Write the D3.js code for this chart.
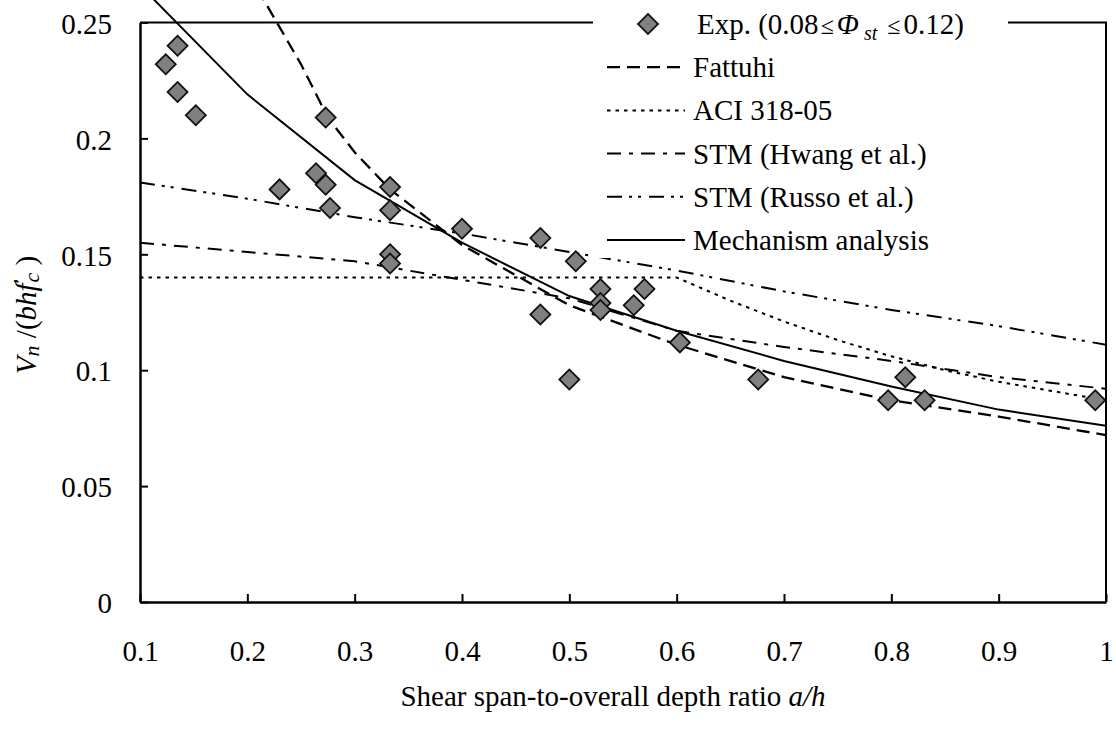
<!DOCTYPE html>
<html>
<head>
<meta charset="utf-8">
<script src="https://cdn.jsdelivr.net/npm/d3@7"></script>
<style>
  body { margin: 0; background: #fff; }
  svg { display: block; font-family: "Liberation Serif", "Times New Roman", serif; }
</style>
</head>
<body>
<div id="chart"></div>
<script>
// experimental points (a/h, Vn/(bhf'c))
const expX = [0.124, 0.135, 0.135, 0.152, 0.230, 0.264, 0.273, 0.273, 0.277, 0.333, 0.333, 0.333, 0.333,
              0.400, 0.473, 0.473, 0.500, 0.506, 0.529, 0.529, 0.529, 0.560, 0.570, 0.603, 0.676,
              0.797, 0.813, 0.831, 0.990];
const expY = [0.232, 0.240, 0.220, 0.210, 0.178, 0.185, 0.209, 0.180, 0.170, 0.179, 0.169, 0.150, 0.146,
              0.161, 0.157, 0.124, 0.096, 0.147, 0.135, 0.129, 0.126, 0.128, 0.135, 0.112, 0.096,
              0.087, 0.097, 0.087, 0.087];

// prediction curves
const fattuhiX = [0.2, 0.25, 0.275, 0.3, 0.333, 0.4, 0.5, 0.6, 0.7, 0.8, 0.9, 1.0];
const fattuhiY = [0.272, 0.232, 0.209, 0.194, 0.178, 0.154, 0.128, 0.111, 0.097, 0.087, 0.080, 0.072];

const aciX = [0.1, 0.6, 0.65, 0.7, 0.75, 0.8, 0.85, 0.9, 0.95, 1.0];
const aciY = [0.140, 0.140, 0.130, 0.121, 0.113, 0.106, 0.100, 0.095, 0.091, 0.087];

const hwangX = [0.1, 0.2, 0.3, 0.4, 0.5, 0.6, 0.7, 0.8, 0.9, 1.0];
const hwangY = [0.155, 0.151, 0.147, 0.139, 0.131, 0.117, 0.110, 0.104, 0.097, 0.092];

const russoX = [0.1, 0.2, 0.3, 0.4, 0.5, 0.6, 0.7, 0.8, 0.9, 1.0];
const russoY = [0.181, 0.174, 0.166, 0.159, 0.151, 0.143, 0.134, 0.126, 0.119, 0.111];

const mechX = [0.1, 0.2, 0.3, 0.4, 0.5, 0.6, 0.7, 0.8, 0.9, 1.0];
const mechY = [0.266, 0.219, 0.182, 0.155, 0.132, 0.117, 0.104, 0.093, 0.083, 0.076];

const xTicks = [0.1, 0.2, 0.3, 0.4, 0.5, 0.6, 0.7, 0.8, 0.9, 1.0];
const xTickLabels = ["0.1", "0.2", "0.3", "0.4", "0.5", "0.6", "0.7", "0.8", "0.9", "1"];
const yTicks = [0, 0.05, 0.1, 0.15, 0.2, 0.25];
const yTickLabels = ["0", "0.05", "0.1", "0.15", "0.2", "0.25"];

const seriesNames = ["Fattuhi", "ACI 318-05", "STM (Hwang et al.)", "STM (Russo et al.)", "Mechanism analysis"];

const W = 1116, H = 729;
const plotL = 140, plotR = 1106, plotT = 22.5, plotB = 602;
const fs = 29;

const svg = d3.select("#chart").append("svg")
    .attr("width", W)
    .attr("height", H);

const x = d3.scaleLinear().domain([0.1, 1]).range([plotL, plotR]);
const y = d3.scaleLinear().domain([0, 0.25]).range([plotB, plotT]);

// curves
const line = d3.line().x(d => x(d[0])).y(d => y(d[1]));
const curves = [
  { pts: d3.zip(fattuhiX, fattuhiY), dash: "13,7", w: 2.3 },
  { pts: d3.zip(aciX, aciY), dash: "3.5,5", w: 2 },
  { pts: d3.zip(hwangX, hwangY), dash: "14,8,4,8", w: 2 },
  { pts: d3.zip(russoX, russoY), dash: "15,7,3,6,3,8", w: 2 },
  { pts: d3.zip(mechX, mechY), dash: null, w: 2 }
];

svg.append("g")
  .selectAll("path")
  .data(curves)
  .enter()
  .append("path")
    .attr("d", d => line(d.pts))
    .attr("fill", "none")
    .attr("stroke", "#000")
    .attr("stroke-width", d => d.w)
    .attr("stroke-dasharray", d => d.dash);

// diamonds
const diamond = d3.symbol(d3.symbolSquare, 200);
svg.append("g")
  .selectAll("path")
  .data(d3.zip(expX, expY))
  .enter()
  .append("path")
    .attr("d", diamond)
    .attr("transform", d => "translate(" + x(d[0]) + "," + y(d[1]) + ") rotate(45)")
    .attr("fill", "#808080")
    .attr("stroke", "#111")
    .attr("stroke-width", 1.8);

// frame top + right
svg.append("path")
  .attr("d", "M" + plotL + "," + plotT + "H" + plotR + "V" + plotB)
  .attr("fill", "none")
  .attr("stroke", "#000")
  .attr("stroke-width", 2);

// x axis
const xAxis = svg.append("g")
  .attr("transform", "translate(0," + plotB + ")")
  .call(d3.axisBottom(x).tickValues(xTicks).tickFormat((d, i) => xTickLabels[i])
        .tickSizeInner(-8).tickSizeOuter(0));
xAxis.select(".domain").attr("stroke-width", 2.5);
xAxis.selectAll(".tick line").attr("stroke-width", 2);
xAxis.selectAll("text")
  .attr("y", 59).attr("dy", 0)
  .attr("font-size", fs).attr("font-family", "Liberation Serif").attr("fill", "#000");

// y axis
const yAxis = svg.append("g")
  .attr("transform", "translate(" + plotL + ",0)")
  .call(d3.axisLeft(y).tickValues(yTicks).tickFormat((d, i) => yTickLabels[i])
        .tickSizeInner(-8).tickSizeOuter(0));
yAxis.select(".domain").attr("stroke-width", 2.5);
yAxis.selectAll(".tick line").attr("stroke-width", 2);
yAxis.selectAll("text")
  .attr("x", -28).attr("dy", "0.37em")
  .attr("font-size", fs).attr("font-family", "Liberation Serif").attr("fill", "#000");

// axis titles
const xt = svg.append("text")
  .attr("x", 613).attr("y", 706)
  .attr("text-anchor", "middle")
  .attr("font-size", fs);
xt.append("tspan").text("Shear span-to-overall depth ratio ");
xt.append("tspan").attr("font-style", "italic").text("a/h");

const yt = svg.append("text")
  .attr("transform", "translate(36,315) rotate(-90)")
  .attr("text-anchor", "middle")
  .attr("font-size", fs);
yt.append("tspan").attr("font-style", "italic").text("V");
yt.append("tspan").attr("font-style", "italic").attr("font-size", 22).attr("dy", 3).text("n");
yt.append("tspan").attr("dy", -3).text(" /(");
yt.append("tspan").attr("font-style", "italic").text("bhf");
yt.append("tspan").attr("font-size", 22).attr("dy", -8).text("′");
yt.append("tspan").attr("font-style", "italic").attr("font-size", 22).attr("dy", 11).attr("dx", -4).text("c");
yt.append("tspan").attr("dy", -3).text(" )");

// legend
const lg = svg.append("g");
lg.append("rect")
  .attr("x", 593).attr("y", 0).attr("width", 415).attr("height", 258)
  .attr("fill", "#fff");

const rowY = i => 24 + i * 43.2;
lg.append("path")
  .attr("d", diamond)
  .attr("transform", "translate(648," + rowY(0) + ") rotate(45)")
  .attr("fill", "#808080").attr("stroke", "#111").attr("stroke-width", 1.8);

const t0 = lg.append("text")
  .attr("x", 697).attr("y", rowY(0) + 10)
  .attr("font-size", fs);
t0.append("tspan").text("Exp. (0.08");
t0.append("tspan").attr("dx", 2).attr("font-size", 24).text("≤");
t0.append("tspan").attr("dx", 3).attr("font-style", "italic").text("Φ");
t0.append("tspan").attr("dx", 5).attr("font-style", "italic").attr("font-size", 20).attr("dy", 6).text("st");
t0.append("tspan").attr("dx", 10).attr("font-size", 24).attr("dy", -6).text("≤");
t0.append("tspan").attr("dx", 3).text("0.12)");

seriesNames.forEach((name, i) => {
  const yy = rowY(i + 1);
  lg.append("line")
    .attr("x1", 607).attr("x2", 685).attr("y1", yy).attr("y2", yy)
    .attr("stroke", "#000").attr("stroke-width", curves[i].w)
    .attr("stroke-dasharray", curves[i].dash);
  lg.append("text")
    .attr("x", 693).attr("y", yy + 10)
    .attr("font-size", fs)
    .text(name);
});
</script>
</body>
</html>
